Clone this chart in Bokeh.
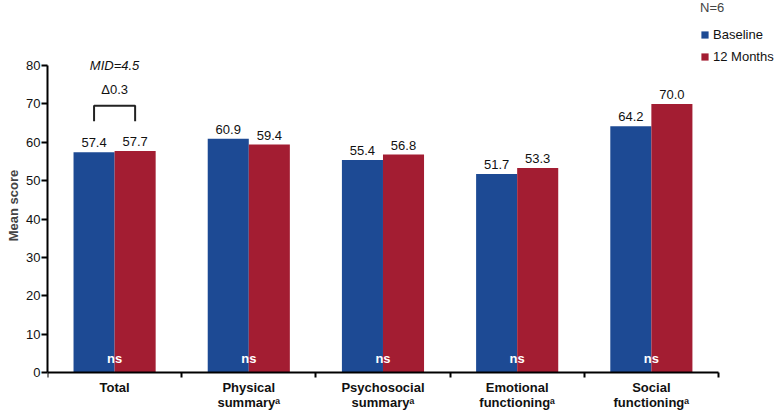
from bokeh.plotting import figure
from bokeh.models import Range1d, FixedTicker, Legend, LegendItem, Label, ColumnDataSource
from bokeh.embed import file_html
from bokeh.resources import INLINE
from bokeh.core.properties import value

# ---- data ----
categories = ["Total", "Physical\nsummary\u1d43", "Psychosocial\nsummary\u1d43",
              "Emotional\nfunctioning\u1d43", "Social\nfunctioning\u1d43"]
baseline = [57.4, 60.9, 55.4, 51.7, 64.2]
months12 = [57.7, 59.4, 56.8, 53.3, 70.0]
significance = ["ns", "ns", "ns", "ns", "ns"]
y_ticks = [0, 10, 20, 30, 40, 50, 60, 70, 80]
series_names = ["Baseline", "12 Months"]
n_label = "N=6"
mid_label = "MID=4.5"
delta_label = "\u03940.3"

# ---- styling ----
FONT = "Liberation Sans"
BLUE = "#1D4A94"
RED = "#A31D32"
BAR_W = 0.306
HALF = BAR_W / 2
Y_TOP = 96.94
Y_BOTTOM = -9.9
X_END = 5.44

n = len(categories)
centers = [i + 0.5 for i in range(n)]
x_base = [c - HALF for c in centers]
x_m12 = [c + HALF for c in centers]

src = ColumnDataSource(dict(
    center=centers, xb=x_base, xm=x_m12, base=baseline, m12=months12,
    base_txt=[f"{v:.1f}" for v in baseline], m12_txt=[f"{v:.1f}" for v in months12],
    sig=significance, sig_y=[3.6] * n,
))

p = figure(width=777, height=410, output_backend="svg", toolbar_location=None,
           x_range=Range1d(0, X_END), y_range=Range1d(Y_BOTTOM, Y_TOP),
           min_border_left=47, min_border_right=0, min_border_top=0, min_border_bottom=0)
p.outline_line_color = None
p.xgrid.grid_line_color = None
p.ygrid.grid_line_color = None
p.background_fill_color = "white"

rb = p.vbar(x="xb", top="base", width=BAR_W, source=src, fill_color=BLUE, line_color=None)
rm = p.vbar(x="xm", top="m12", width=BAR_W, source=src, fill_color=RED, line_color=None)

# value labels
p.text(x="xb", y="base", text="base_txt", source=src, text_align="center", text_baseline="bottom",
       y_offset=-5, text_font=value(FONT), text_font_size="13px", text_color="#111111")
p.text(x="xm", y="m12", text="m12_txt", source=src, text_align="center", text_baseline="bottom",
       y_offset=-5, text_font=value(FONT), text_font_size="13px", text_color="#111111")
# ns labels
p.text(x="center", y="sig_y", text="sig", source=src, text_align="center", text_baseline="middle",
       text_font=value(FONT), text_font_size="13px", text_font_style="bold", text_color="white")

# bracket over Total
br_lo, br_hi = 65.5, 69.5
p.line(x=[x_base[0], x_base[0], x_m12[0], x_m12[0]], y=[br_lo, br_hi, br_hi, br_lo],
       line_color="#222222", line_width=2)
p.add_layout(Label(x=centers[0], y=73.7, text=delta_label, text_align="center", text_baseline="middle",
                   text_font=FONT, text_font_size="13px", text_color="#111111"))
p.add_layout(Label(x=centers[0], y=80.0, text=mid_label, text_align="center", text_baseline="middle",
                   text_font=FONT, text_font_size="13px", text_font_style="italic", text_color="#111111"))

# y axis
ya = p.yaxis[0]
ya.bounds = (0, 80)
ya.ticker = FixedTicker(ticks=y_ticks, minor_ticks=[])
ya.axis_label = "Mean score"
ya.axis_label_text_font = FONT
ya.axis_label_text_font_style = "bold"
ya.axis_label_text_font_size = "13px"
ya.axis_label_standoff = 2
ya.major_label_text_font = FONT
ya.major_label_text_font_size = "13px"
ya.major_label_text_color = "#111111"
ya.major_label_standoff = 1
ya.axis_line_width = 2
ya.axis_line_color = "black"
ya.major_tick_line_width = 2
ya.major_tick_in = 0
ya.major_tick_out = 6
ya.minor_tick_line_color = None

# x axis at y=0: labels at centres, ticks at category boundaries
xa = p.xaxis[0]
xa.fixed_location = 0
xa.bounds = (0, n)
xa.ticker = FixedTicker(ticks=centers, minor_ticks=list(range(n + 1)))
xa.major_label_overrides = {c: lab for c, lab in zip(centers, categories)}
xa.major_label_text_font = FONT
xa.major_label_text_font_size = "13px"
xa.major_label_text_font_style = "bold"
xa.major_label_text_color = "#111111"
xa.major_label_text_line_height = 1.05
xa.major_label_standoff = 2
xa.major_tick_line_color = None
xa.major_tick_out = 5
xa.minor_tick_line_color = "black"
xa.minor_tick_line_width = 2
xa.minor_tick_in = 0
xa.minor_tick_out = 5
xa.axis_line_width = 2
xa.axis_line_color = "black"

legend = Legend(items=[LegendItem(label=series_names[0], renderers=[rb]),
                       LegendItem(label=series_names[1], renderers=[rm])],
                location=(653, 345), title=n_label,
                title_text_font=FONT, title_text_font_size="13px", title_text_font_style="normal",
                title_standoff=10,
                label_text_font=FONT, label_text_font_size="13px", label_text_color="#111111",
                glyph_width=9, glyph_height=9, label_height=18, spacing=4, label_standoff=4,
                padding=0, margin=0, border_line_color=None, background_fill_alpha=0)
p.add_layout(legend)

open("out.html", "w").write(file_html(p, INLINE))
